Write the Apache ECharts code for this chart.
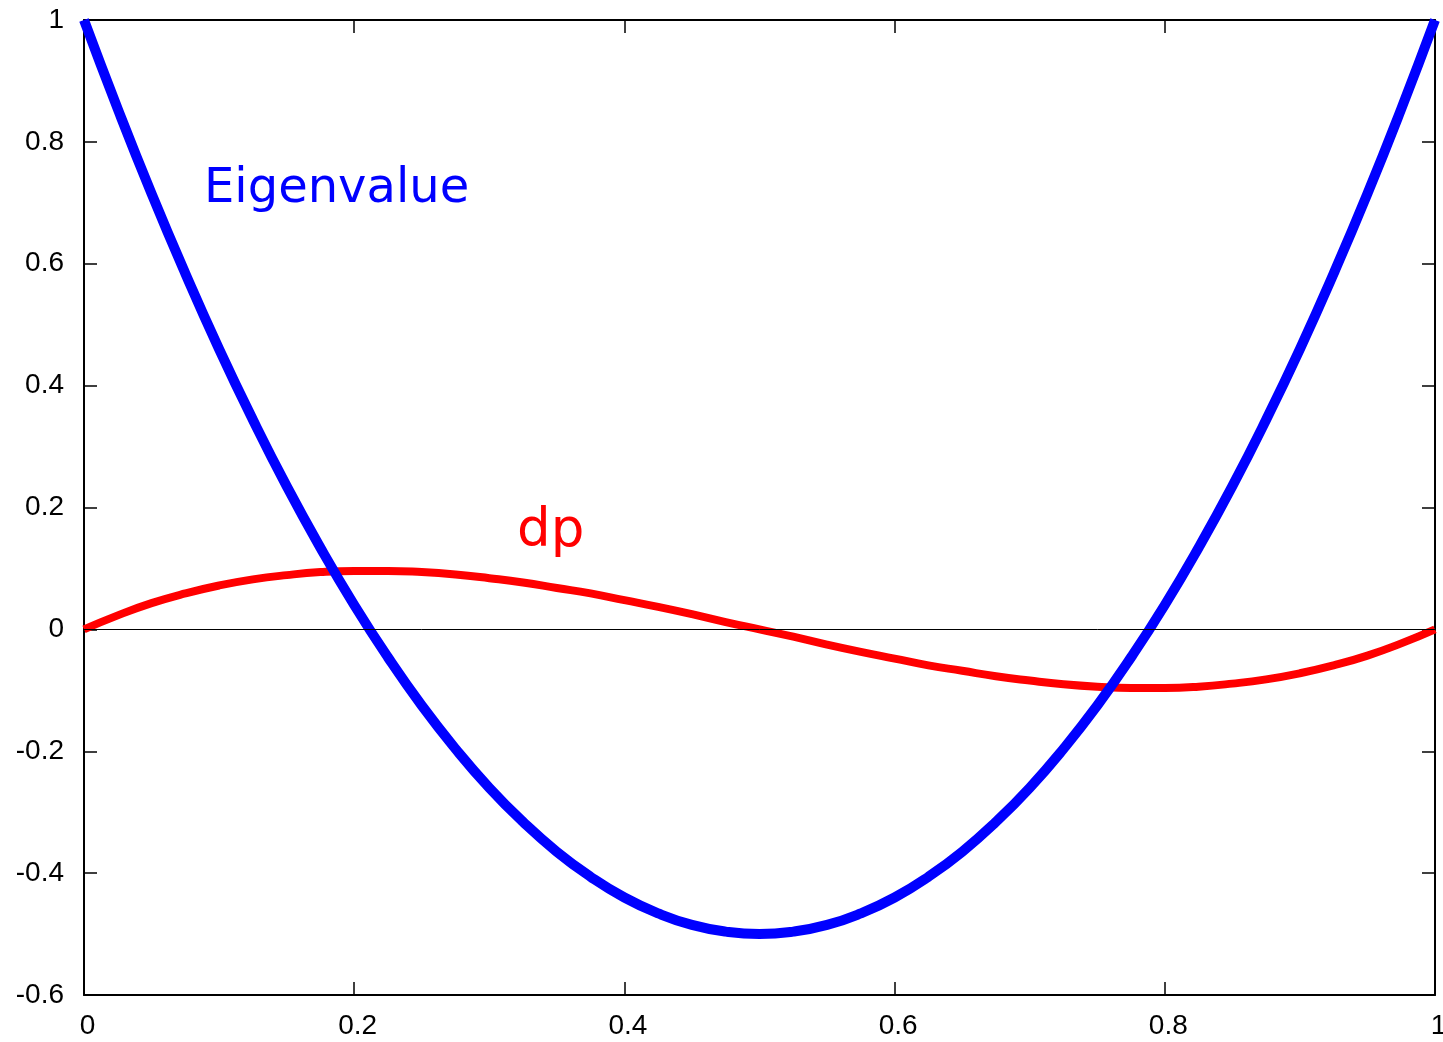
<!DOCTYPE html>
<html>
<head>
<meta charset="utf-8">
<title>Eigenvalue and dp</title>
<script src="https://cdn.jsdelivr.net/npm/echarts@6/dist/echarts.min.js"></script>
<style>
  html, body { margin: 0; padding: 0; background: #fff; overflow: hidden; }
  #main { width: 1443px; height: 1042px; }
</style>
</head>
<body>
<div id="main"></div>
<script>
// values, x from 0 to 1 in steps of 0.025
var xValues = [0, 0.025, 0.05, 0.075, 0.1, 0.125, 0.15, 0.175, 0.2, 0.225,
               0.25, 0.275, 0.3, 0.325, 0.35, 0.375, 0.4, 0.425, 0.45, 0.475,
               0.5, 0.525, 0.55, 0.575, 0.6, 0.625, 0.65, 0.675, 0.7, 0.725,
               0.75, 0.775, 0.8, 0.825, 0.85, 0.875, 0.9, 0.925, 0.95, 0.975, 1];
var eigenValues = [1, 0.854, 0.715, 0.584, 0.46, 0.344, 0.235, 0.134, 0.04, -0.046,
                   -0.125, -0.196, -0.26, -0.316, -0.365, -0.406, -0.44, -0.466, -0.485, -0.496,
                   -0.5, -0.496, -0.485, -0.466, -0.44, -0.406, -0.365, -0.316, -0.26, -0.196,
                   -0.125, -0.046, 0.04, 0.134, 0.235, 0.344, 0.46, 0.584, 0.715, 0.854, 1];
var dpValues = [0, 0.023, 0.043, 0.059, 0.072, 0.082, 0.089, 0.094, 0.096, 0.096,
                0.094, 0.09, 0.084, 0.077, 0.068, 0.059, 0.048, 0.037, 0.025, 0.012,
                0, -0.012, -0.025, -0.037, -0.048, -0.059, -0.068, -0.077, -0.084, -0.09,
                -0.094, -0.096, -0.096, -0.094, -0.089, -0.082, -0.072, -0.059, -0.043, -0.023, 0];
var xTicks = [0, 0.2, 0.4, 0.6, 0.8, 1];
var yTicks = [-0.6, -0.4, -0.2, 0, 0.2, 0.4, 0.6, 0.8, 1];

function pairs(ys) {
    var out = [];
    for (var i = 0; i < xValues.length; i++) {
        out.push([xValues[i], ys[i]]);
    }
    return out;
}

var labelFont = '"Liberation Sans", Arial, sans-serif';
var lineBlack = {color: '#000', width: 2};
var tickStyle = {color: '#000', width: 1.5};

function tickText(v) {
    return String(+v.toFixed(1));
}

var myChart = echarts.init(document.getElementById('main'));
myChart.setOption({
    animation: false,
    backgroundColor: '#fff',
    grid: {
        left: 84,
        right: 8,
        top: 20,
        bottom: 47,
        containLabel: false,
        outerBoundsMode: 'none'   // v6: don't squeeze the plot to fit the last tick label
    },
    xAxis: [
        {
            type: 'value',
            min: xTicks[0],
            max: xTicks[xTicks.length - 1],
            interval: 0.2,
            position: 'bottom',
            splitLine: {show: false},
            axisLine: {onZero: false, lineStyle: lineBlack},
            axisTick: {inside: true, length: 13, lineStyle: tickStyle},
            axisLabel: {
                margin: 17,
                padding: [0, 0, 0, 7],
                color: '#000',
                fontSize: 28,
                fontFamily: labelFont,
                formatter: tickText
            }
        },
        {
            // mirrored ticks on the top edge
            type: 'value',
            min: xTicks[0],
            max: xTicks[xTicks.length - 1],
            interval: 0.2,
            position: 'top',
            splitLine: {show: false},
            axisLine: {onZero: false, lineStyle: lineBlack},
            axisTick: {inside: true, length: 13, lineStyle: tickStyle},
            axisLabel: {show: false}
        }
    ],
    yAxis: [
        {
            type: 'value',
            min: yTicks[0],
            max: yTicks[yTicks.length - 1],
            interval: 0.2,
            position: 'left',
            splitLine: {show: false},
            axisLine: {show: true, onZero: false, lineStyle: lineBlack},
            axisTick: {show: true, inside: true, length: 13, lineStyle: tickStyle},
            axisLabel: {
                margin: 20,
                color: '#000',
                fontSize: 28,
                fontFamily: labelFont,
                formatter: tickText
            }
        },
        {
            // mirrored ticks on the right edge
            type: 'value',
            min: yTicks[0],
            max: yTicks[yTicks.length - 1],
            interval: 0.2,
            position: 'right',
            splitLine: {show: false},
            axisLine: {show: true, onZero: false, lineStyle: lineBlack},
            axisTick: {show: true, inside: true, length: 13, lineStyle: tickStyle},
            axisLabel: {show: false}
        }
    ],
    series: [
        {
            name: 'dp',
            type: 'line',
            data: pairs(dpValues),
            smooth: true,
            showSymbol: false,
            lineStyle: {color: '#ff0000', width: 8},
            z: 3,
            markLine: {
                silent: true,
                symbol: 'none',
                label: {show: false},
                lineStyle: {color: '#000', width: 1, type: 'solid'},
                data: [{yAxis: 0}]
            }
        },
        {
            name: 'Eigenvalue',
            type: 'line',
            data: pairs(eigenValues),
            smooth: true,
            showSymbol: false,
            lineStyle: {color: '#0000ff', width: 10},
            z: 4
        }
    ],
    graphic: [
        {
            type: 'text',
            left: 204,
            top: 166,
            style: {
                text: 'Eigenvalue',
                fill: '#0000ff',
                font: '48px "DejaVu Sans", sans-serif'
            }
        },
        {
            type: 'text',
            left: 517,
            top: 506,
            style: {
                text: 'dp',
                fill: '#ff0000',
                font: '53px "DejaVu Sans", sans-serif'
            }
        }
    ]
});
</script>
</body>
</html>
